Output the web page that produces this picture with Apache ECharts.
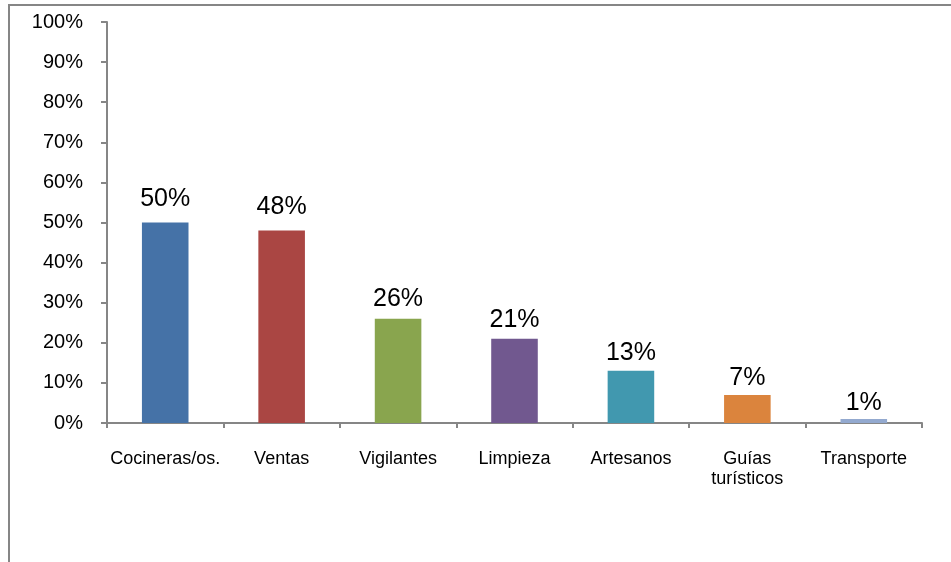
<!DOCTYPE html>
<html>
<head>
<meta charset="utf-8">
<script src="https://cdn.jsdelivr.net/npm/echarts@6/dist/echarts.min.js"></script>
<style>
  html, body { margin: 0; padding: 0; background: #ffffff; }
  #chart { width: 951px; height: 562px; }
</style>
</head>
<body>
<div id="chart"></div>
<script>
// Occupations and share of respondents (percent)
const categories = ['Cocineras/os.', 'Ventas', 'Vigilantes', 'Limpieza', 'Artesanos', 'Guías\nturísticos', 'Transporte'];
const values = [50, 48, 26, 21, 13, 7, 1];
const barColors = ['#4572A7', '#AA4643', '#89A54E', '#71588F', '#4198AF', '#DB843D', '#93A9CF'];
const yTicks = [0, 10, 20, 30, 40, 50, 60, 70, 80, 90, 100];

const axisGray = '#868686';
const font = 'Liberation Sans, Arial, sans-serif';

const chart = echarts.init(document.getElementById('chart'), null, { renderer: 'canvas' });

chart.setOption({
  backgroundColor: '#ffffff',
  animation: false,
  grid: { left: 107, top: 22, right: 29, bottom: 139, containLabel: false },
  graphic: [{
    type: 'rect',
    shape: { x: 9, y: 5, width: 1200, height: 1200 },
    style: { fill: 'none', stroke: axisGray, lineWidth: 2 },
    silent: true
  }],
  xAxis: {
    type: 'category',
    data: categories,
    boundaryGap: true,
    axisLine: { show: true, lineStyle: { color: axisGray, width: 2 } },
    axisTick: { show: true, alignWithLabel: false, length: 5, lineStyle: { color: axisGray, width: 2 } },
    axisLabel: { color: '#000000', fontFamily: font, fontSize: 18, lineHeight: 20, margin: 26, interval: 0 },
    splitLine: { show: false }
  },
  yAxis: {
    type: 'value',
    min: yTicks[0],
    max: yTicks[yTicks.length - 1],
    interval: 10,
    axisLine: { show: true, lineStyle: { color: axisGray, width: 2 } },
    axisTick: { show: true, length: 6, lineStyle: { color: axisGray, width: 2 } },
    axisLabel: { color: '#000000', fontFamily: font, fontSize: 20, margin: 24, formatter: v => v + '%' },
    splitLine: { show: false }
  },
  series: [{
    type: 'bar',
    barWidth: '40%',
    data: values.map((v, i) => ({
      value: v,
      itemStyle: { color: barColors[i] },
      // taller bars carry their label a little further above the bar top
      label: { distance: 3.5 + 0.15 * v }
    })),
    label: {
      show: true,
      position: 'top',
      color: '#000000',
      fontFamily: font,
      fontSize: 25,
      formatter: p => p.value + '%'
    }
  }]
});
</script>
</body>
</html>
